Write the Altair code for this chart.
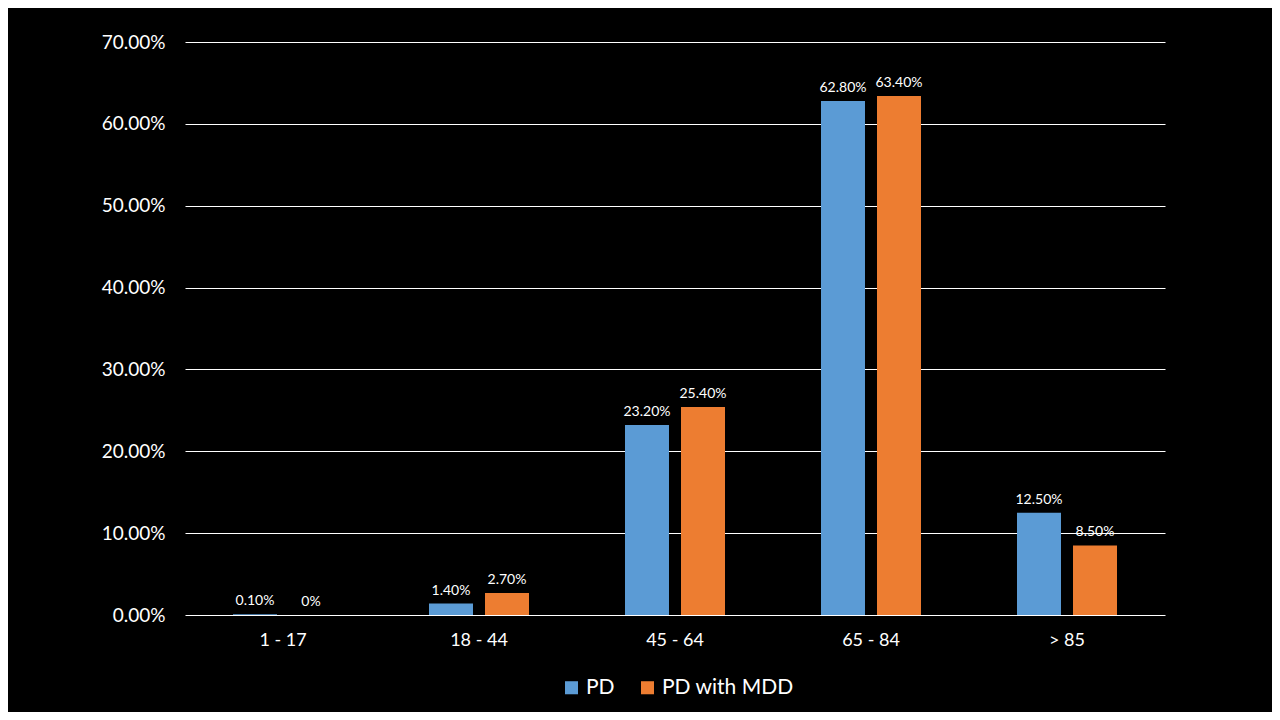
import altair as alt
import pandas as pd

categories = ["1 - 17", "18 - 44", "45 - 64", "65 - 84", "> 85"]
pd_values = [0.1, 1.4, 23.2, 62.8, 12.5]
mdd_values = [0.0, 2.7, 25.4, 63.4, 8.5]
series = ["PD", "PD with MDD"]
colors = ["#5B9BD5", "#ED7D31"]

rows = []
for c, a, b in zip(categories, pd_values, mdd_values):
    rows.append({"cat": c, "series": series[0], "value": a})
    rows.append({"cat": c, "series": series[1], "value": b})
df = pd.DataFrame(rows)

FONT = "Lato"

base = alt.Chart(df).transform_calculate(
    label="datum.value == 0 ? '0%' : format(datum.value, '.2f') + '%'"
).encode(
    x=alt.X("cat:N", sort=categories, title=None,
            scale=alt.Scale(paddingInner=0, paddingOuter=0),
            axis=alt.Axis(labelAngle=0, labelFontSize=18, labelColor="#ffffff",
                          labelFont=FONT, ticks=False, domain=False, labelPadding=16)),
    xOffset=alt.XOffset("series:N", sort=series,
                        scale=alt.Scale(paddingInner=0.2143, paddingOuter=0.857)),
    y=alt.Y("value:Q", title=None,
            scale=alt.Scale(domain=[0, 70], nice=False),
            axis=alt.Axis(values=[0, 10, 20, 30, 40, 50, 60, 70],
                          labelExpr="format(datum.value, '.2f') + '%'",
                          labelFontSize=19, labelColor="#ffffff", labelFont=FONT,
                          ticks=False, domain=False, labelPadding=20,
                          grid=True, gridColor="#ffffff", gridWidth=1, gridOpacity=1)),
)

bars = base.mark_bar().encode(
    color=alt.Color("series:N", sort=series,
                    scale=alt.Scale(domain=series, range=colors),
                    legend=alt.Legend(title=None, orient="none", direction="horizontal",
                                      legendX=376, legendY=635,
                                      symbolType="square", symbolSize=170,
                                      symbolStrokeWidth=0, symbolOpacity=1,
                                      labelFontSize=21, labelColor="#ffffff",
                                      labelFont=FONT, columnPadding=22,
                                      symbolOffset=0, labelOffset=4))
)

text = base.mark_text(baseline="bottom", dy=-6, fontSize=14, color="#ffffff",
                      font=FONT).encode(text="label:N")

chart = alt.layer(bars, text).properties(
    width=980, height=573,
    background="#000000",
    padding={"left": 177, "top": 34, "right": 107, "bottom": 97},
    autosize=alt.AutoSizeParams(type="none"),
).configure_view(stroke=None)

chart.save("out.html", embed_options={"renderer": "svg", "actions": False})
